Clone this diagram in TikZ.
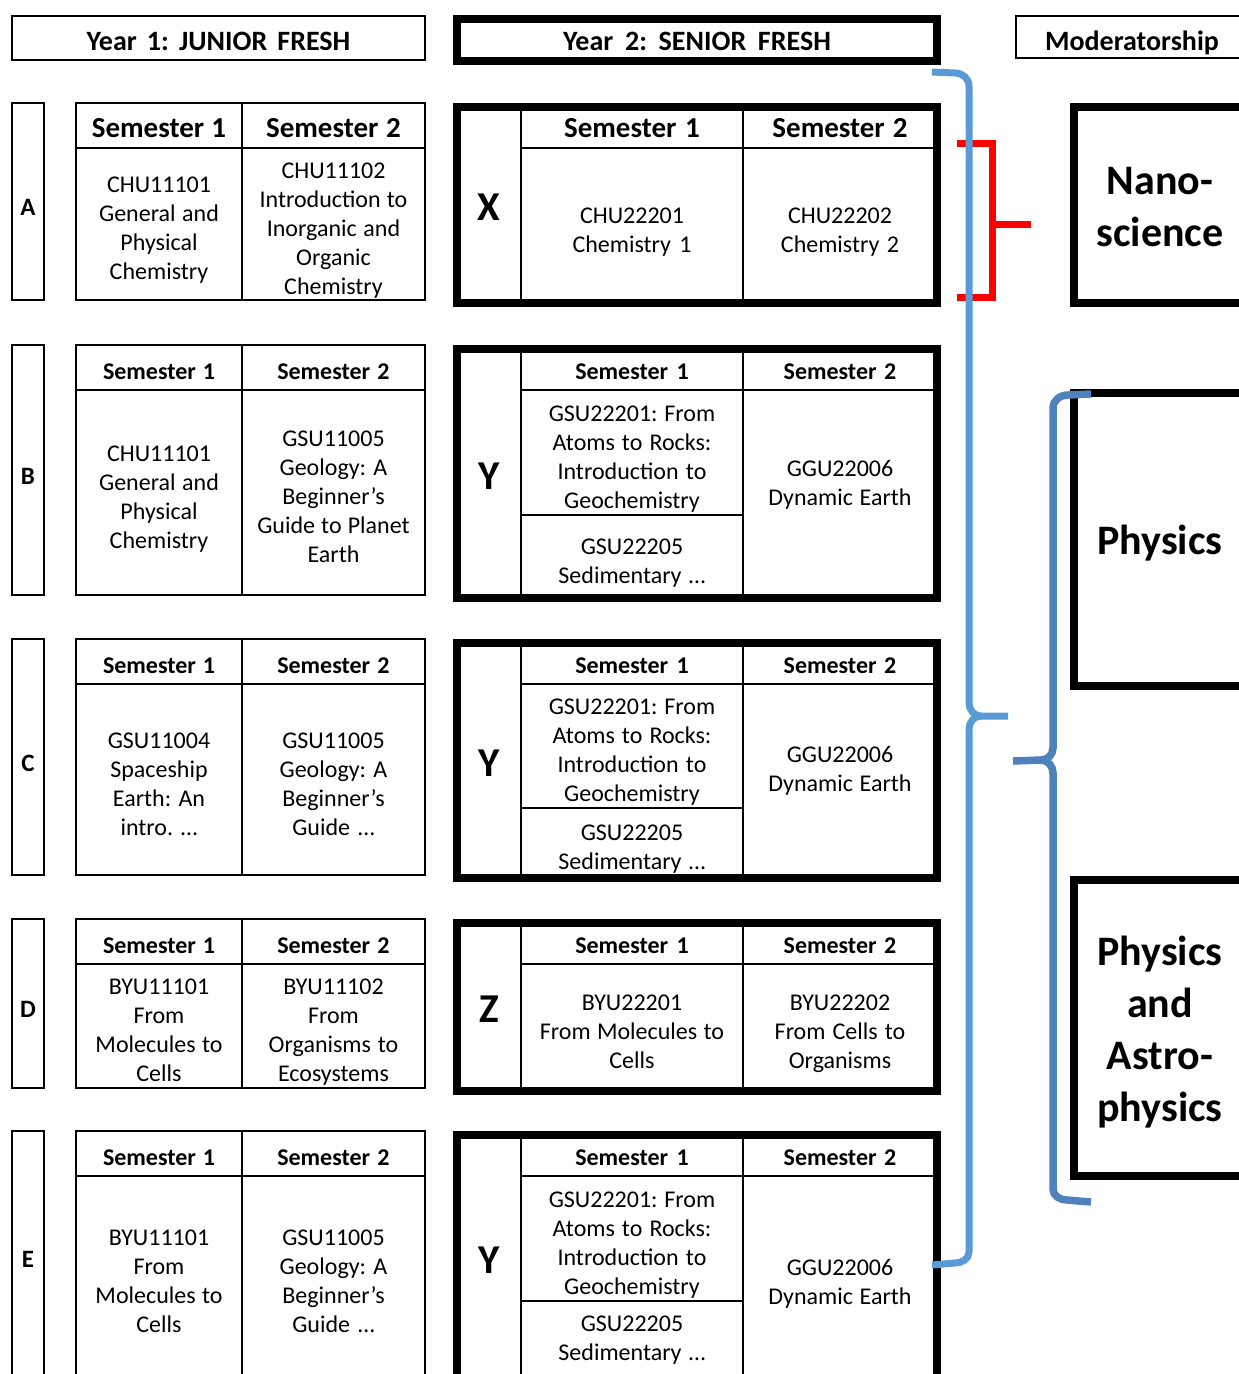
\documentclass[tikz,border=0pt]{standalone}
\usepackage{fontspec}
\setmainfont{Carlito}
\usepackage{tikz}
\usetikzlibrary{positioning}

\definecolor{bracelight}{RGB}{91,155,213}
\definecolor{bracedark}{RGB}{79,129,189}

\begin{document}
\begin{tikzpicture}[
x=1pt, y=-1pt,
node distance=0pt and 0pt,
lift/.code={\def\cellrise{#1}},
drop/.code={\def\celldrop{#1}},
every node/.style={align=center, rectangle, inner sep=0pt, outer sep=0pt, lift=1.2em, drop=0.2em,
  execute at begin node={\spaceskip=0pt\xspaceskip=0pt\frenchspacing\rule{0pt}{\cellrise}},
  execute at end node={\rule[-\celldrop]{0pt}{\celldrop}}},
outline/.style={draw, line width=2.2pt},
cell/.style={outline, font=\fontsize{24}{29}\selectfont},
thickframe/.style={draw, line width=8pt},
yearhead/.style={font=\bfseries\fontsize{28}{34}\selectfont},
semfont/.style={font=\bfseries\fontsize{24}{29}\selectfont},
bigsemfont/.style={lift=1.06em, font=\bfseries\fontsize{29}{35}\selectfont},
jhead/.style={minimum height=45pt},
shead/.style={lift=1.03em, minimum height=41pt},
jone/.style={minimum width=166pt, text width=160pt},
jtwo/.style={minimum width=183pt, text width=177pt},
sone/.style={minimum width=222pt, text width=216pt},
stwo/.style={minimum width=194pt, text width=188pt},
letter/.style={outline, lift=1.32em, minimum width=32pt, text width=30pt, font=\bfseries\fontsize{25}{30}\selectfont},
bigletter/.style={outline, lift=0.97em, minimum width=64pt, text width=60pt, font=\bfseries\fontsize{41}{49}\selectfont},
modbox/.style={thickframe, lift=0.93em, minimum width=172pt, text width=166pt, font=\bfseries\fontsize{42}{52}\selectfont},
lightbrace/.style={draw=bracelight, line width=7pt},
darkbrace/.style={draw=bracedark, line width=7.5pt},
redbracket/.style={draw=red, line width=7pt, line join=miter}
]

\path[use as bounding box, fill=white] (0,0) rectangle (1239,1374);
\clip (0,0) rectangle (1239,1374);

\node[outline, yearhead, lift=1.06em, minimum width=413pt, text width=400pt, minimum height=44pt, anchor=north west] (yearone) at (12,16) {Year 1: JUNIOR FRESH};

\node[thickframe, yearhead, lift=0.92em, minimum width=480pt, text width=460pt, minimum height=42pt, anchor=north west] (yeartwo) at (457,19) {Year 2: SENIOR FRESH};

\node[outline, yearhead, lift=1.14em, minimum width=232pt, text width=228pt, minimum height=42pt, anchor=north west] (moderator) at (1016,16) {Moderatorship};


\node[letter, minimum height=197pt, anchor=north west] (rowa) at (12,103) {A};
\node[cell, jone, jhead, bigsemfont, anchor=north west] (asemone) at (76,103) {Semester 1};
\node[cell, jtwo, jhead, bigsemfont, right=of asemone] (asemtwo) {Semester 2};
\node[cell, jone, minimum height=152pt, below=of asemone] (acourseone) {CHU11101\\General and\\Physical\\Chemistry};
\node[cell, jtwo, minimum height=152pt, below=of asemtwo] (acoursetwo) {CHU11102\\Introduction to\\Inorganic and\\Organic\\Chemistry};

\node[bigletter, minimum height=196pt, anchor=north west] (xletter) at (457,107) {X};
\node[cell, sone, shead, bigsemfont, lift=0.92em, anchor=north west] (xsemone) at (xletter.north east) {Semester 1};
\node[cell, stwo, shead, bigsemfont, lift=0.92em, right=of xsemone] (xsemtwo) {Semester 2};
\node[cell, sone, minimum height=155pt, below=of xsemone] (xcourseone) {CHU22201\\Chemistry 1};
\node[cell, stwo, minimum height=155pt, below=of xsemtwo] (xcoursetwo) {CHU22202\\Chemistry 2};
\node[thickframe, minimum width=480pt, minimum height=196pt, anchor=north west] (xtable) at (xletter.north west) {};


\node[letter, minimum height=250pt, anchor=north west] (rowb) at (12,345) {B};
\node[cell, jone, jhead, semfont, anchor=north west] (bsemone) at (76,345) {Semester 1};
\node[cell, jtwo, jhead, semfont, right=of bsemone] (bsemtwo) {Semester 2};
\node[cell, jone, minimum height=205pt, below=of bsemone] (bcourseone) {CHU11101\\General and\\Physical\\Chemistry};
\node[cell, jtwo, minimum height=205pt, below=of bsemtwo] (bcoursetwo) {GSU11005\\Geology: A\\Beginner’s\\Guide to Planet\\Earth};

\node[bigletter, minimum height=249pt, anchor=north west] (yletterb) at (457,349) {Y};
\node[cell, sone, shead, semfont, anchor=north west] (ybsemone) at (yletterb.north east) {Semester 1};
\node[cell, stwo, shead, semfont, right=of ybsemone] (ybsemtwo) {Semester 2};
\node[cell, sone, minimum height=125pt, below=of ybsemone] (ybcourseone) {GSU22201: From\\Atoms to Rocks:\\Introduction to\\Geochemistry};
\node[cell, sone, minimum height=83pt, below=of ybcourseone] (ybcoursethree) {GSU22205\\Sedimentary …};
\node[cell, stwo, drop=35pt, minimum height=208pt, below=of ybsemtwo] (ybcoursetwo) {GGU22006\\Dynamic Earth};
\node[thickframe, minimum width=480pt, minimum height=249pt, anchor=north west] (ybtable) at (yletterb.north west) {};


\node[letter, minimum height=236pt, anchor=north west] (rowc) at (12,639) {C};
\node[cell, jone, jhead, semfont, anchor=north west] (csemone) at (76,639) {Semester 1};
\node[cell, jtwo, jhead, semfont, right=of csemone] (csemtwo) {Semester 2};
\node[cell, jone, minimum height=191pt, below=of csemone] (ccourseone) {GSU11004\\Spaceship\\Earth: An\\intro. …};
\node[cell, jtwo, minimum height=191pt, below=of csemtwo] (ccoursetwo) {GSU11005\\Geology: A\\Beginner’s\\Guide …};

\node[bigletter, minimum height=235pt, anchor=north west] (yletterc) at (457,643) {Y};
\node[cell, sone, shead, semfont, anchor=north west] (ycsemone) at (yletterc.north east) {Semester 1};
\node[cell, stwo, shead, semfont, right=of ycsemone] (ycsemtwo) {Semester 2};
\node[cell, sone, minimum height=124pt, below=of ycsemone] (yccourseone) {GSU22201: From\\Atoms to Rocks:\\Introduction to\\Geochemistry};
\node[cell, sone, minimum height=70pt, below=of yccourseone] (yccoursethree) {GSU22205\\Sedimentary …};
\node[cell, stwo, drop=37pt, minimum height=194pt, below=of ycsemtwo] (yccoursetwo) {GGU22006\\Dynamic Earth};
\node[thickframe, minimum width=480pt, minimum height=235pt, anchor=north west] (yctable) at (yletterc.north west) {};


\node[letter, minimum height=169pt, anchor=north west] (rowd) at (12,919) {D};
\node[cell, jone, jhead, semfont, anchor=north west] (dsemone) at (76,919) {Semester 1};
\node[cell, jtwo, jhead, semfont, right=of dsemone] (dsemtwo) {Semester 2};
\node[cell, jone, minimum height=124pt, below=of dsemone] (dcourseone) {BYU11101\\From\\Molecules to\\Cells};
\node[cell, jtwo, minimum height=124pt, below=of dsemtwo] (dcoursetwo) {BYU11102\\From\\Organisms to\\Ecosystems};

\node[bigletter, minimum height=168pt, anchor=north west] (zletter) at (457,923) {Z};
\node[cell, sone, shead, semfont, anchor=north west] (zsemone) at (zletter.north east) {Semester 1};
\node[cell, stwo, shead, semfont, right=of zsemone] (zsemtwo) {Semester 2};
\node[cell, sone, minimum height=127pt, below=of zsemone] (zcourseone) {BYU22201\\From Molecules to\\Cells};
\node[cell, stwo, minimum height=127pt, below=of zsemtwo] (zcoursetwo) {BYU22202\\From Cells to\\Organisms};
\node[thickframe, minimum width=480pt, minimum height=168pt, anchor=north west] (ztable) at (zletter.north west) {};


\node[letter, minimum height=244pt, anchor=north west] (rowe) at (12,1131) {E};
\node[cell, jone, jhead, semfont, anchor=north west] (esemone) at (76,1131) {Semester 1};
\node[cell, jtwo, jhead, semfont, right=of esemone] (esemtwo) {Semester 2};
\node[cell, jone, minimum height=202pt, below=of esemone] (ecourseone) {BYU11101\\From\\Molecules to\\Cells};
\node[cell, jtwo, minimum height=202pt, below=of esemtwo] (ecoursetwo) {GSU11005\\Geology: A\\Beginner’s\\Guide …};

\node[bigletter, minimum height=245pt, anchor=north west] (ylettere) at (457,1135) {Y};
\node[cell, sone, shead, semfont, anchor=north west] (yesemone) at (ylettere.north east) {Semester 1};
\node[cell, stwo, shead, semfont, right=of yesemone] (yesemtwo) {Semester 2};
\node[cell, sone, minimum height=125pt, below=of yesemone] (yecourseone) {GSU22201: From\\Atoms to Rocks:\\Introduction to\\Geochemistry};
\node[cell, sone, drop=18pt, minimum height=79pt, below=of yecourseone] (yecoursethree) {GSU22205\\Sedimentary …};
\node[cell, stwo, minimum height=204pt, below=of yesemtwo] (yecoursetwo) {GGU22006\\Dynamic Earth};
\node[thickframe, minimum width=480pt, minimum height=245pt, anchor=north west] (yetable) at (ylettere.north west) {};


\node[modbox, minimum height=196pt, anchor=north west] (nano) at (1074,107) {Nano-\\science};

\node[modbox, minimum height=293pt, anchor=north west] (physics) at (1074,393) {Physics};

\node[modbox, minimum height=296pt, anchor=north west] (astro) at (1074,880) {Physics\\and\\Astro-\\physics};


\coordinate (redtop) at (957,143);
\coordinate (redbottom) at (957,297);
\coordinate (redtip) at (1031,224);
\draw[redbracket] (redtop) -- (992,143) -- (992,297) -- (redbottom);
\draw[redbracket] (992,224) -- (redtip);

\coordinate (lighttop) at (932,72);
\coordinate (lighttip) at (1008,716);
\coordinate (lightbottom) at (932,1265);
\draw[lightbrace] (lighttop) -- (955,73) to[out=0,in=90] (969,86) -- (969,703) to[out=-90,in=180] (981,716) -- (lighttip);
\draw[lightbrace] (981,716) to[out=180,in=90] (969,729) -- (969,1252) to[out=-90,in=0] (955,1263) -- (lightbottom);

\coordinate (darktop) at (1091,394);
\coordinate (darktip) at (1013,761);
\coordinate (darkbottom) at (1091,1202);
\draw[darkbrace] (darktop) -- (1068,395) to[out=180,in=90] (1053,408) -- (1053,748) to[out=-90,in=0] (1041,760) -- (darktip);
\draw[darkbrace] (1041,760) to[out=0,in=90] (1053,773) -- (1053,1189) to[out=-90,in=180] (1067,1200) -- (darkbottom);

\end{tikzpicture}
\end{document}
